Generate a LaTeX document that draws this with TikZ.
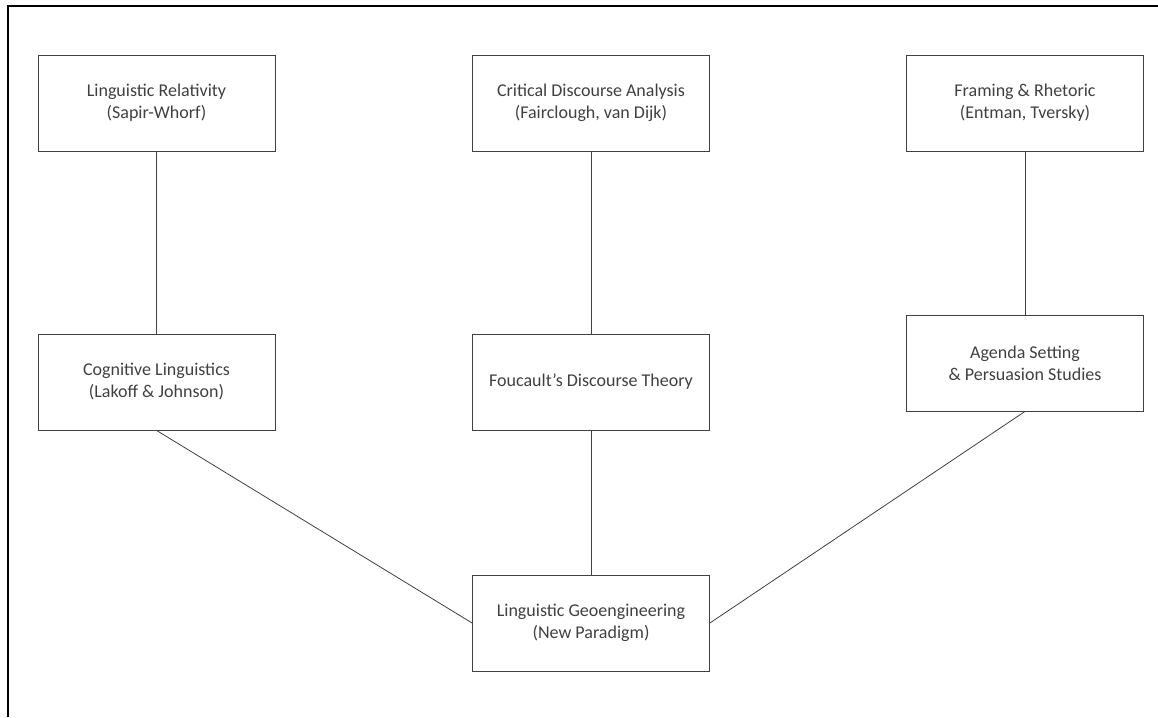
\documentclass[tikz,border=0pt]{standalone}
\usepackage{fontspec}
\setmainfont{Carlito}
\usepackage{tikz}

\definecolor{boxgray}{HTML}{404040}
\tikzset{
  theory/.style={draw=boxgray, line width=0.8pt, minimum width=237pt, minimum height=96pt,
    align=center, text=boxgray, font=\fontsize{18}{22}\selectfont},
  link/.style={draw=boxgray, line width=0.8pt}
}

\begin{document}
\begin{tikzpicture}[x=1pt, y=-1pt]
\useasboundingbox (0,0) rectangle (1158,717);
\draw[line width=2.5pt] (8,717)--(8,6)--(1158,6);

% top row
\node[theory] (relativity) at (156.5,103) {Linguistic Relativity\\(Sapir-Whorf)};
\node[theory] (cda) at (591,103) {Critical Discourse Analysis\\(Fairclough, van Dijk)};
\node[theory] (framing) at (1025,103) {Framing \& Rhetoric\\(Entman, Tversky)};

% middle row
\node[theory] (cognitive) at (156.5,382) {Cognitive Linguistics\\(Lakoff \& Johnson)};
\node[theory] (foucault) at (591,382) {Foucault’s Discourse Theory};
\node[theory] (agenda) at (1025,363) {Agenda Setting\\\& Persuasion Studies};

% bottom
\node[theory] (geo) at (591,623) {Linguistic Geoengineering\\(New Paradigm)};

\draw[link] (relativity.south)--(cognitive.north);
\draw[link] (cda.south)--(foucault.north);
\draw[link] (framing.south)--(agenda.north);
\draw[link] (cognitive.south)--(geo.west);
\draw[link] (foucault.south)--(geo.north);
\draw[link] (agenda.south)--(geo.east);
\end{tikzpicture}
\end{document}
